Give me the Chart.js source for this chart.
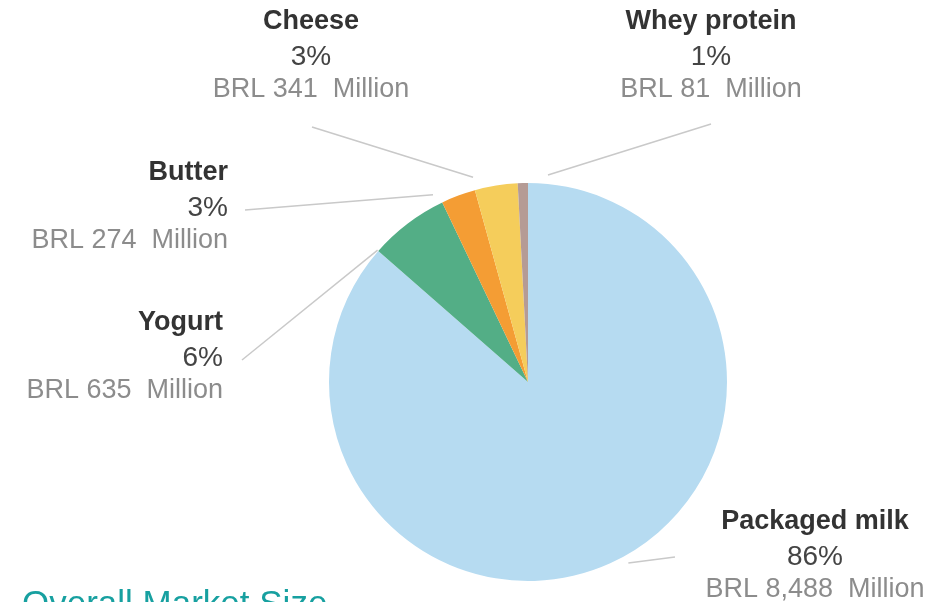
<!DOCTYPE html>
<html>
<head>
<meta charset="utf-8">
<script src="https://cdn.jsdelivr.net/npm/chart.js@4.4.1/dist/chart.umd.min.js"></script>
<style>
    html, body { margin: 0; padding: 0; background: #fff; }
    #container-pie { width: 945px; height: 602px; position: relative; overflow: hidden; }
</style>
</head>
<body>
<div id="container-pie"><canvas id="pieChart" width="945" height="602"></canvas></div>
<script>
// data, clockwise from 12 o'clock
var categories = ['Packaged milk', 'Yogurt', 'Butter', 'Cheese', 'Whey protein'];
var valuesBRL = [8488, 635, 274, 341, 81];
var sliceColors = ['#b6dbf1', '#53ae86', '#f49d34', '#f5cd5b', '#b59b95'];
var chartTitle = 'Overall Market Size';

// where each label sits, and how its leader line runs to the pie
var labelLayout = [
    { x: 815, y: 522, align: 'center', lineFrom: [675, 557], nudge: -4.6, gap: 8 },
    { x: 223, y: 323, align: 'right', lineFrom: [242, 360], nudge: -11.6, gap: 1 },
    { x: 228, y: 173, align: 'right', lineFrom: [245, 210], nudge: -6.4, gap: 11 },
    { x: 311, y: 22, align: 'center', lineFrom: [312, 127], nudge: -5.8, gap: 13 },
    { x: 711, y: 22, align: 'center', lineFrom: [711, 124], nudge: 7, gap: 9 }
];

var total = valuesBRL.reduce(function (a, b) { return a + b; }, 0);

function fmt(n) {
    return n.toLocaleString('en-US');
}

var pieLabels = {
    id: 'pieLabels',
    afterDatasetsDraw: function (chart) {
        var ctx = chart.ctx;
        var arcs = chart.getDatasetMeta(0).data;
        ctx.save();

        for (var i = 0; i < arcs.length; i++) {
            var arc = arcs[i];
            var lay = labelLayout[i];
            var a = (arc.startAngle + arc.endAngle) / 2 + lay.nudge * Math.PI / 180;
            var r = arc.outerRadius + lay.gap;

            ctx.beginPath();
            ctx.moveTo(lay.lineFrom[0], lay.lineFrom[1]);
            ctx.lineTo(arc.x + Math.cos(a) * r, arc.y + Math.sin(a) * r);
            ctx.strokeStyle = '#c9c9c9';
            ctx.lineWidth = 1.5;
            ctx.stroke();

            var pct = Math.round(valuesBRL[i] / total * 100) + '%';
            ctx.textAlign = lay.align;
            ctx.textBaseline = 'middle';

            ctx.font = 'bold 27px "Liberation Sans", Arial, sans-serif';
            ctx.fillStyle = '#333333';
            ctx.fillText(categories[i], lay.x, lay.y);

            ctx.font = '28px "Liberation Sans", Arial, sans-serif';
            ctx.fillStyle = '#444444';
            ctx.fillText(pct, lay.x, lay.y + 35);

            ctx.font = '27px "Liberation Sans", Arial, sans-serif';
            ctx.fillStyle = '#8c8c8c';
            ctx.fillText('BRL ' + fmt(valuesBRL[i]) + '  Million', lay.x, lay.y + 68);
        }

        // title, cut by the bottom edge like the original
        ctx.font = '35px "Liberation Sans", Arial, sans-serif';
        ctx.fillStyle = '#17a0a0';
        ctx.textAlign = 'left';
        ctx.textBaseline = 'alphabetic';
        ctx.fillText(chartTitle, 22, 615);

        ctx.restore();
    }
};

var ctx = document.getElementById('pieChart').getContext('2d');
var chart = new Chart(ctx, {
    type: 'pie',
    data: {
        labels: categories,
        datasets: [{
            data: valuesBRL,
            backgroundColor: sliceColors,
            borderWidth: 0
        }]
    },
    options: {
        responsive: false,
        animation: false,
        layout: { padding: { left: 329, right: 218, top: 183, bottom: 21 } },
        plugins: {
            legend: { display: false },
            tooltip: { enabled: false },
            title: { display: false }
        }
    },
    plugins: [pieLabels]
});
</script>
</body>
</html>
